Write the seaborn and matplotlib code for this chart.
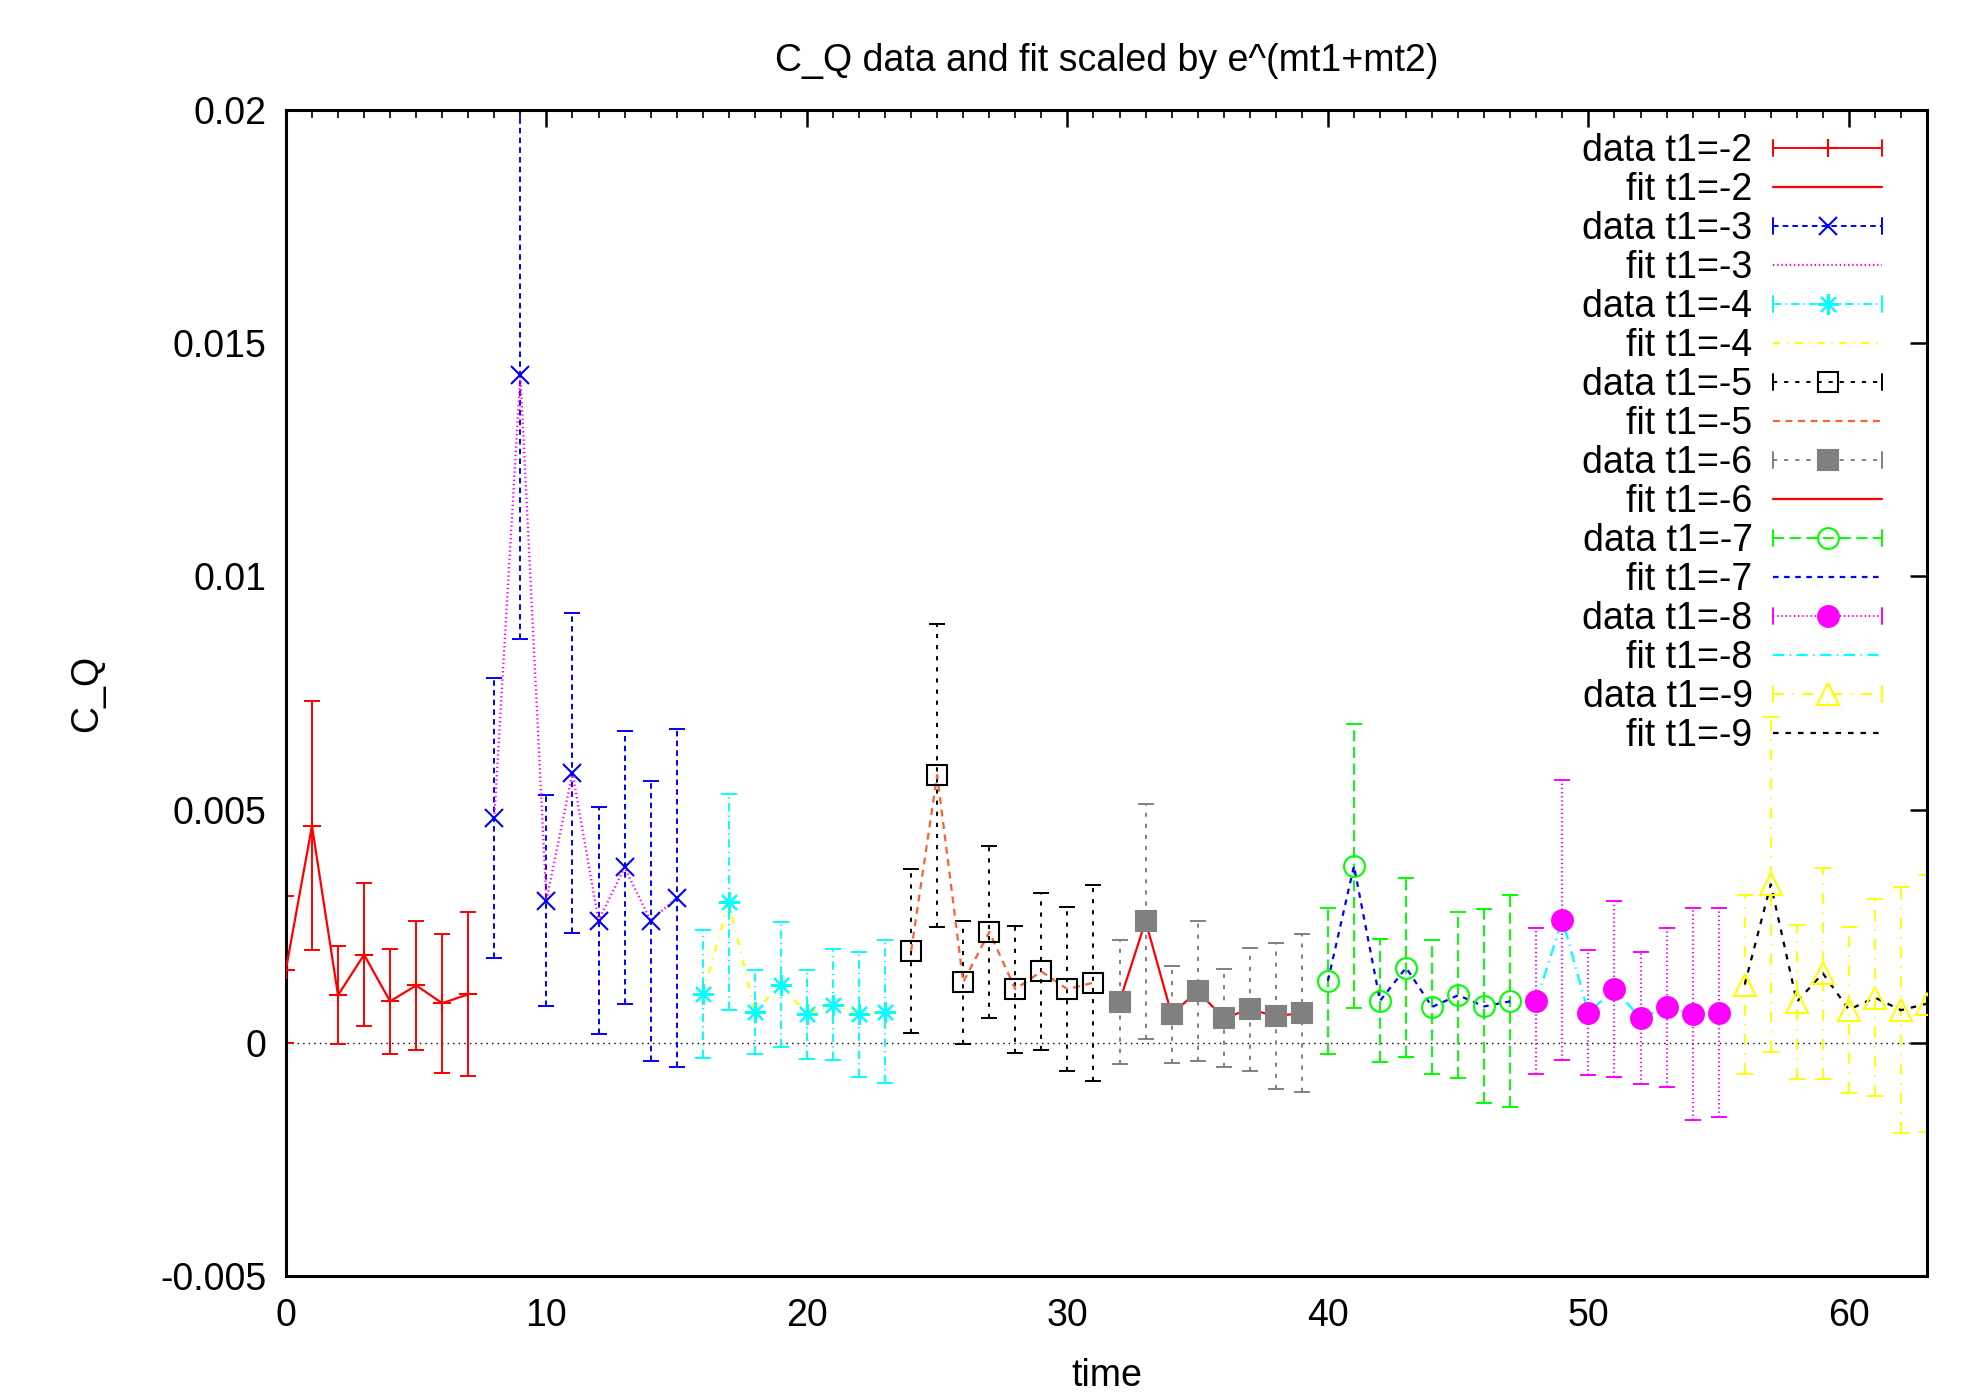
import numpy as np
import matplotlib
matplotlib.use("Agg")
import matplotlib.pyplot as plt
import seaborn as sns
from matplotlib.lines import Line2D
from matplotlib.legend_handler import HandlerLine2D
from matplotlib.ticker import MultipleLocator, FuncFormatter

# 8 time slices per t1 value, t1 = -2 ... -9
time = np.arange(64)

cq_t1_2 = [0.00157, 0.00465, 0.00102, 0.00189, 0.00089, 0.00123, 0.00085, 0.00104]
err_t1_2 = [0.00157, 0.00267, 0.00105, 0.00153, 0.00112, 0.00138, 0.00149, 0.00176]
cq_t1_3 = [0.00482, 0.01432, 0.00305, 0.00579, 0.00262, 0.00376, 0.00262, 0.00311]
err_t1_3 = [0.00300, 0.00567, 0.00227, 0.00343, 0.00243, 0.00293, 0.00300, 0.00362]
cq_t1_4 = [0.00104, 0.00302, 0.00067, 0.00125, 0.00061, 0.00082, 0.00061, 0.00067]
err_t1_4 = [0.00137, 0.00231, 0.00090, 0.00135, 0.00096, 0.00119, 0.00134, 0.00153]
cq_t1_5 = [0.00197, 0.00574, 0.00130, 0.00238, 0.00115, 0.00153, 0.00115, 0.00129]
err_t1_5 = [0.00176, 0.00325, 0.00132, 0.00184, 0.00136, 0.00169, 0.00176, 0.00210]
cq_t1_6 = [0.00088, 0.00261, 0.00061, 0.00111, 0.00053, 0.00072, 0.00057, 0.00064]
err_t1_6 = [0.00133, 0.00252, 0.00104, 0.00150, 0.00105, 0.00132, 0.00156, 0.00170]
cq_t1_7 = [0.00133, 0.00379, 0.00090, 0.00161, 0.00077, 0.00102, 0.00078, 0.00089]
err_t1_7 = [0.00157, 0.00305, 0.00132, 0.00192, 0.00143, 0.00178, 0.00208, 0.00227]
cq_t1_8 = [0.00090, 0.00264, 0.00064, 0.00116, 0.00053, 0.00076, 0.00062, 0.00065]
err_t1_8 = [0.00157, 0.00300, 0.00134, 0.00189, 0.00142, 0.00171, 0.00228, 0.00225]
cq_t1_9 = [0.00125, 0.00340, 0.00088, 0.00149, 0.00071, 0.00097, 0.00070, 0.00084]
err_t1_9 = [0.00192, 0.00359, 0.00165, 0.00226, 0.00178, 0.00211, 0.00264, 0.00275]

t1_labels = ["-2", "-3", "-4", "-5", "-6", "-7", "-8", "-9"]
cq_data = [cq_t1_2, cq_t1_3, cq_t1_4, cq_t1_5, cq_t1_6, cq_t1_7, cq_t1_8, cq_t1_9]
cq_err = [err_t1_2, err_t1_3, err_t1_4, err_t1_5, err_t1_6, err_t1_7, err_t1_8, err_t1_9]

# gnuplot-ish styles: (color, linestyle, marker, filled, markersize)
data_styles = [
    ("#ff0000", "-", "+", True, 13),
    ("#0000ff", (0, (4, 3)), "x", True, 13),
    ("#00ffff", (0, (6, 3, 1, 3)), (8, 2, 0), True, 15),
    ("#000000", (0, (3, 5)), "s", False, 14),
    ("#808080", (0, (3, 5)), "s", True, 14),
    ("#00ff00", (0, (8, 4)), "o", False, 15),
    ("#ff00ff", (0, (1, 2)), "o", True, 15),
    ("#ffff00", (0, (8, 6, 1, 6)), "^", False, 16),
]
fit_styles = [
    ("#ff0000", "-"),
    ("#ff00ff", (0, (1, 2))),
    ("#ffff00", (0, (5, 5, 1, 5))),
    ("#ff6030", (0, (5, 4))),
    ("#ff0000", "-"),
    ("#0000ff", (0, (4, 4))),
    ("#00ffff", (0, (8, 4, 1, 4))),
    ("#000000", (0, (4, 5))),
]

sns.set_style("white")
plt.rcParams['font.family'] = ['Liberation Sans', 'DejaVu Sans']
plt.rcParams['lines.scale_dashes'] = False
plt.rcParams['text.color'] = 'black'
plt.rcParams['axes.labelcolor'] = 'black'

fig = plt.figure(figsize=(19.65, 13.95), dpi=100)
ax = fig.add_axes([0.1455, 0.0853, 0.8352, 0.8358])

ax.axhline(0, color="black", lw=1.0, ls=(0, (1, 3)), zorder=1)

handles = []
labels = []
for i in range(8):
    x = time[i * 8:(i + 1) * 8]
    y = cq_data[i]
    col, ls, mk, filled, ms = data_styles[i]
    fcol, fls = fit_styles[i]

    eb = ax.errorbar(x, y, yerr=cq_err[i], fmt="none", ecolor=col,
                     elinewidth=1.4, capsize=6, capthick=1.4, zorder=2)
    eb[2][0].set_linestyle(ls)

    sns.lineplot(x=x, y=y, color=fcol, linestyle=fls, lw=1.6, ax=ax,
                 legend=False, zorder=3)

    ax.plot(x, y, linestyle="none", marker=mk, ms=ms,
            mfc=col if filled else "none", mec=col, mew=1.5, zorder=4)

    handles.append(Line2D([], [], color=col, ls=ls, lw=1.4, marker=mk, ms=ms,
                          mfc=col if filled else "none", mec=col, mew=1.5))
    labels.append("data t1=" + t1_labels[i])
    handles.append(Line2D([], [], color=fcol, ls=fls, lw=1.6))
    labels.append("fit t1=" + t1_labels[i])


class HandlerErrLine(HandlerLine2D):
    # legend entry with small end caps, like gnuplot's errorbar key
    def create_artists(self, legend, orig_handle, xdescent, ydescent,
                       width, height, fontsize, trans):
        artists = super().create_artists(legend, orig_handle, xdescent, ydescent,
                                         width, height, fontsize, trans)
        y = height / 2 - ydescent
        for xc in (-xdescent, width - xdescent):
            cap = Line2D([xc, xc], [y - height * 0.3, y + height * 0.3],
                         color=orig_handle.get_color(), lw=1.4)
            cap.set_transform(trans)
            artists.append(cap)
        return artists


handler_map = {h: HandlerErrLine() for h in handles[0::2]}
ax.legend(handles, labels, handler_map=handler_map, loc="upper right",
          bbox_to_anchor=(1882 / 1965, 1 - 133 / 1395),
          bbox_transform=fig.transFigure, frameon=False, markerfirst=False,
          numpoints=1, fontsize=27, handlelength=2.9, handletextpad=0.55,
          labelspacing=0.08, borderpad=0, borderaxespad=0)

ax.set_xlim(0, 63)
ax.set_ylim(-0.005, 0.02)
ax.xaxis.set_major_locator(MultipleLocator(10))
ax.xaxis.set_minor_locator(MultipleLocator(1))
ax.yaxis.set_major_locator(MultipleLocator(0.005))
ax.yaxis.set_major_formatter(FuncFormatter(lambda v, p: "%g" % round(v, 6)))
ax.tick_params(which="both", direction="in", top=True, right=True,
               labelsize=27, colors="black")
ax.tick_params(which="major", length=12, width=1.8)
ax.tick_params(which="minor", length=6, width=1.2)
ax.tick_params(axis="y", pad=14)
ax.tick_params(axis="x", pad=16)
for sp in ax.spines.values():
    sp.set_linewidth(2.2)
    sp.set_color("black")

ax.set_title("C_Q data and fit scaled by e^(mt1+mt2)", fontsize=27, pad=28)
ax.set_xlabel("time", fontsize=27)
ax.set_ylabel("C_Q", fontsize=27)
ax.xaxis.set_label_coords(0.5, -0.07)
ax.yaxis.set_label_coords(-0.11, 0.5)

fig.savefig("out.png", dpi=100)
